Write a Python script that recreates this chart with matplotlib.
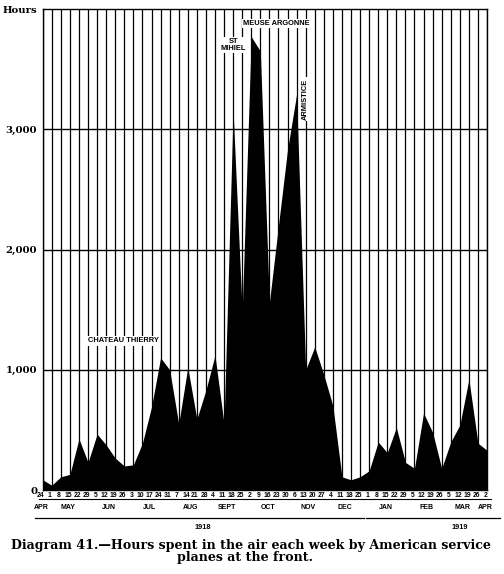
import numpy as np
import matplotlib
matplotlib.use("Agg")
import matplotlib.pyplot as plt

# weekly hours in the air, week of Apr 24 1918 .. week of Apr 2 1919
hours = [85, 40, 110, 130, 425, 230, 465, 375, 265, 200,
         210, 390, 690, 1100, 1000, 550, 1020, 590, 830, 1120,
         550, 3150, 1480, 3770, 3650, 1560, 2200, 2830, 3290, 1000,
         1190, 960, 700, 110, 85, 110, 160, 400, 310, 520,
         230, 180, 640, 480, 180, 400, 540, 920, 390, 330]

months = ["APR", "MAY", "JUN", "JUL", "AUG", "SEPT", "OCT",
          "NOV", "DEC", "JAN", "FEB", "MAR", "APR"]
month_days = [[24], [1, 8, 15, 22, 29], [5, 12, 19, 26], [3, 10, 17, 24, 31],
              [7, 14, 21, 28], [4, 11, 18, 25], [2, 9, 16, 23, 30],
              [6, 13, 20, 27], [4, 11, 18, 25], [1, 8, 15, 22, 29],
              [5, 12, 19, 26], [5, 12, 19, 26], [2]]
years = ["1918", "1919"]

y_ticks = [0, 1000, 2000, 3000, 4000]
y_labels = ["0", "1,000", "2,000", "3,000", "Hours"]

events = [("CHATEAU THIERRY", 8.85, 1240, 0),
          ("ST\nMIHIEL", 21.0, 3700, 0),
          ("MEUSE ARGONNE", 25.8, 3880, 0),
          ("ARMISTICE", 29.0, 3250, 90)]

sans = ["Liberation Sans", "DejaVu Sans"]
serif = ["DejaVu Serif"]

fig = plt.figure(figsize=(5.04, 5.74), dpi=100)
ax = fig.add_axes([0.0847, 0.1463, 0.8816, 0.838])

weeks = np.arange(len(hours))
ax.fill_between(weeks, hours, 0, color="black", lw=0, zorder=1)
for w in weeks:
    ax.axvline(w, color="black", lw=0.9, zorder=2)
for v in y_ticks[1:-1]:
    ax.axhline(v, color="black", lw=1.0, zorder=2)

ax.set_xlim(0, len(hours) - 1)
ax.set_ylim(0, 4000)
ax.set_xticks([])
ax.set_yticks(y_ticks, y_labels, family=serif, fontweight="bold", fontsize=7.3)
ax.tick_params(length=0, pad=4)
for s in ax.spines.values():
    s.set_color("black")
    s.set_linewidth(1.0)

# event labels
for txt, x, y, rot in events:
    ax.text(x, y, txt, ha="center", va="center", rotation=rot,
            family=sans, fontweight="bold", fontsize=5.4, linespacing=1.0,
            zorder=4, bbox=dict(fc="white", ec="none", pad=0.8))

# date axis drawn by hand
tr = ax.get_xaxis_transform()
i = 0
for m, days in zip(months, month_days):
    first = i
    for d in days:
        ax.text(i - 0.2, -0.004, str(d), transform=tr, ha="center", va="top",
                family=sans, fontweight="bold", fontsize=4.9)
        i += 1
    last = i - 1
    ax.plot([first - 0.45, last + 0.45], [-0.019, -0.019], transform=tr,
            color="black", lw=0.8, clip_on=False)
    ax.text((first + last) / 2 - 0.2, -0.037, m, transform=tr, ha="center",
            va="center", family=sans, fontweight="bold", fontsize=5.0)

# year brackets
n1918 = sum(len(d) for d in month_days[:9])
ax.plot([-0.9, n1918 - 0.6], [-0.058, -0.058], transform=tr, color="black",
        lw=0.9, clip_on=False)
ax.plot([n1918 - 0.3, len(hours) + 0.4], [-0.058, -0.058], transform=tr,
        color="black", lw=0.9, clip_on=False)
ax.text(17.6, -0.077, years[0], transform=tr, ha="center", va="center",
        family=sans, fontweight="bold", fontsize=5.3)
ax.text(46.0, -0.077, years[1], transform=tr, ha="center", va="center",
        family=sans, fontweight="bold", fontsize=5.3)

fig.text(0.498, 0.0505,
         "Diagram 41.\u2014Hours spent in the air each week by American service",
         ha="center", va="center", family=serif, fontweight="bold", fontsize=9.1)
fig.text(0.486, 0.0279, "planes at the front.", ha="center", va="center",
         family=serif, fontweight="bold", fontsize=9.1)

fig.savefig("out.png", dpi=100)
